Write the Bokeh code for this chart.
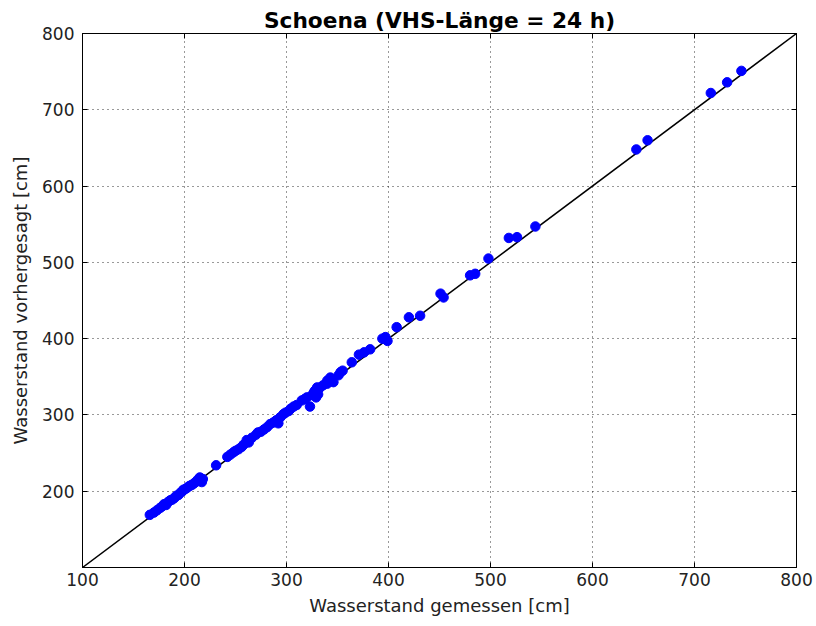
from bokeh.plotting import figure
from bokeh.models import LinearAxis, FixedTicker, Range1d, ColumnDataSource
from bokeh.embed import file_html
from bokeh.resources import INLINE

gemessen = [166, 170, 173, 176, 178, 180, 182, 184, 186, 188, 190, 192, 194, 196, 198,
            199, 201, 203, 205, 207, 209, 211, 213, 215, 217, 218, 231, 242, 245, 248,
            250, 253, 256, 258, 261, 263, 266, 270, 272, 275, 278, 281, 284, 287, 290,
            292, 294, 297, 299, 302, 304, 307, 310, 315, 318, 320, 323, 325, 327, 328,
            329, 330, 331, 333, 336, 340, 340, 343, 346, 351, 353, 355, 364, 371, 376,
            382, 394, 397, 399, 408, 420, 431, 451, 454, 480, 485, 498, 518, 526, 544,
            643, 654, 716, 732, 746]
vorhergesagt = [169, 172, 175, 178, 180, 183, 182, 186, 188, 189, 191, 194, 195, 198, 200,
                202, 203, 205, 207, 208, 210, 212, 215, 218, 212, 216, 234, 245, 248, 251,
                253, 255, 258, 261, 267, 264, 270, 274, 277, 278, 281, 284, 288, 290, 293,
                289, 297, 301, 303, 305, 308, 311, 313, 319, 321, 323, 311, 326, 330, 332,
                323, 336, 327, 336, 339, 341, 345, 349, 343, 352, 356, 358, 369, 379, 382,
                386, 400, 402, 397, 415, 428, 430, 459, 454, 483, 485, 505, 532, 533, 547,
                648, 660, 722, 736, 751]
diag = [100, 800]
x_ticks = [100, 200, 300, 400, 500, 600, 700, 800]
y_ticks = [200, 300, 400, 500, 600, 700, 800]

FONT = "DejaVu Sans"

p = figure(width=816, height=626, output_backend="svg", toolbar_location=None,
           x_range=Range1d(100, 800), y_range=Range1d(100, 800),
           min_border_left=82, min_border_right=20, min_border_top=33, min_border_bottom=59)

p.title.text = "Schoena (VHS-Länge = 24 h)"
p.title.align = "center"
p.title.text_font = FONT
p.title.text_font_size = "21.7px"
p.title.text_font_style = "bold"
p.title.text_color = "black"
p.title.standoff = 2

p.outline_line_color = "black"
p.outline_line_width = 1
p.background_fill_color = "white"

for ax, ticks in ((p.xaxis[0], x_ticks), (p.yaxis[0], y_ticks)):
    ax.ticker = FixedTicker(ticks=ticks)
    ax.major_tick_in = 5
    ax.major_tick_out = 0
    ax.minor_tick_in = 0
    ax.minor_tick_out = 0
    ax.axis_line_color = "black"
    ax.major_tick_line_color = "black"
    ax.major_label_text_font = FONT
    ax.major_label_text_font_size = "17px"
    ax.major_label_text_color = "#222222"
    ax.axis_label_text_font = FONT
    ax.axis_label_text_font_size = "18px"
    ax.axis_label_text_font_style = "normal"
    ax.axis_label_text_color = "#222222"

p.xaxis.axis_label = "Wasserstand gemessen [cm]"
p.yaxis.axis_label = "Wasserstand vorhergesagt [cm]"
p.xaxis.major_label_standoff = 5
p.xaxis.axis_label_standoff = 6
p.yaxis.major_label_standoff = 8
p.yaxis.axis_label_standoff = 8

top = LinearAxis(ticker=FixedTicker(ticks=x_ticks), major_tick_in=5, major_tick_out=0,
                 minor_tick_in=0, minor_tick_out=0,
                 major_label_overrides={t: "" for t in x_ticks},
                 major_label_standoff=0, axis_line_color="black")
right = LinearAxis(ticker=FixedTicker(ticks=y_ticks), major_tick_in=5, major_tick_out=0,
                   minor_tick_in=0, minor_tick_out=0,
                   major_label_overrides={t: "" for t in y_ticks},
                   major_label_standoff=0, axis_line_color="black")
p.add_layout(top, "above")
p.add_layout(right, "right")

p.xgrid.ticker = FixedTicker(ticks=x_ticks)
p.ygrid.ticker = FixedTicker(ticks=y_ticks)
p.grid.grid_line_color = "black"
p.grid.grid_line_dash = "1 4"
p.grid.grid_line_width = 1
p.grid.grid_line_alpha = 0.8

p.line(diag, diag, line_color="black", line_width=1.5)

src = ColumnDataSource(dict(x=gemessen, y=vorhergesagt))
p.scatter("x", "y", source=src, size=9.5, fill_color="#0000ff", line_color="#0000ff")

open("out.html", "w").write(file_html(p, INLINE))
